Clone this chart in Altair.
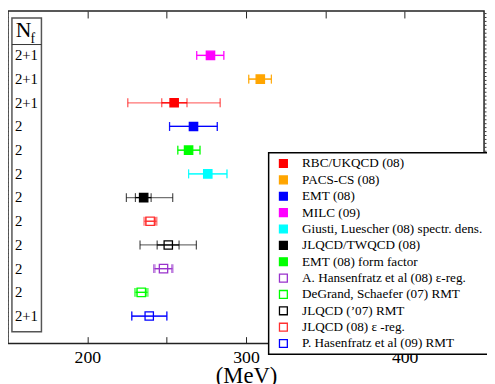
import altair as alt
import pandas as pd

# ---------------- data ----------------
names = [
    "MILC (09)",
    "PACS-CS (08)",
    "RBC/UKQCD (08)",
    "EMT (08)",
    "EMT (08) form factor",
    "Giusti, Luescher (08) spectr. dens.",
    "JLQCD/TWQCD (08)",
    "JLQCD (08) ε -reg.",
    "JLQCD (’07) RMT",
    "A. Hansenfratz et al (08) ε-reg.",
    "DeGrand, Schaefer (07) RMT",
    "P. Hasenfratz et al (09) RMT",
]
nf = ["2+1", "2+1", "2+1", "2", "2", "2", "2", "2", "2", "2", "2", "2+1"]
center = [277.6, 309.0, 254.7, 266.9, 263.8, 275.9, 235.5, 239.6, 251.0, 248.0, 234.0, 239.0]
stat_lo = [268.9, 301.7, 246.9, 251.8, 257.0, 263.8, 230.3, 236.6, 244.0, 242.6, 230.7, 228.0]
stat_hi = [286.0, 316.0, 262.8, 281.9, 271.0, 288.0, 240.2, 243.0, 257.8, 253.2, 237.4, 250.1]
tot_lo = [268.9, 301.7, 225.5, 251.8, 257.0, 263.8, 224.6, 235.7, 233.2, 241.8, 229.9, 228.0]
tot_hi = [286.0, 316.0, 283.7, 281.9, 271.0, 288.0, 253.8, 243.8, 268.7, 253.9, 238.2, 250.1]
filled = [True, True, True, True, True, True, True, False, False, False, False, False]
colors = ["#ff00ff", "#ffa500", "#ff0000", "#0000ff", "#00ff00", "#00ffff", "#000000",
          "#ff3030", "#000000", "#9932cc", "#00ff00", "#0000ff"]

legend_order = [
    "RBC/UKQCD (08)",
    "PACS-CS (08)",
    "EMT (08)",
    "MILC (09)",
    "Giusti, Luescher (08) spectr. dens.",
    "JLQCD/TWQCD (08)",
    "EMT (08) form factor",
    "A. Hansenfratz et al (08) ε-reg.",
    "DeGrand, Schaefer (07) RMT",
    "JLQCD (’07) RMT",
    "JLQCD (08) ε -reg.",
    "P. Hasenfratz et al (09) RMT",
]
x_ticks = [200, 250, 300, 350, 400]

# ---------------- tables ----------------
rows = list(range(1, len(names) + 1))
df = pd.DataFrame({
    "name": names, "nf": nf, "row": rows, "center": center,
    "stat_lo": stat_lo, "stat_hi": stat_hi, "tot_lo": tot_lo, "tot_hi": tot_hi,
})
caps = pd.DataFrame({
    "name": names * 4,
    "row": rows * 4,
    "x": tot_lo + tot_hi + stat_lo + stat_hi,
})
leg_df = pd.DataFrame({"name": legend_order, "rank": list(range(len(legend_order)))})

cmap = dict(zip(names, colors))
fmap = dict(zip(names, filled))
stroke_range = [cmap[n] for n in legend_order]
fill_range = [cmap[n] if fmap[n] else "transparent" for n in legend_order]

SERIF = "Liberation Serif"
xscale = alt.Scale(domain=[150, 450], nice=False, zero=False)
yscale = alt.Scale(domain=[-0.87, 13.16], nice=False, zero=False, reverse=True)
color_scale = alt.Scale(domain=legend_order, range=stroke_range)
fill_scale = alt.Scale(domain=legend_order, range=fill_range)
leg_y = alt.Scale(domain=[0, len(legend_order) - 1], range=[155, 338], nice=False, zero=False)

minor_y = [round(-0.8 + 0.166 * i, 3) for i in range(84)]

bottom_axis = alt.Axis(
    orient="bottom", values=x_ticks, offset=-7, tickSize=7, tickColor="#222",
    domain=False, grid=False, labelPadding=5, labelFont=SERIF, labelFontSize=18,
    labelColor="black", labelExpr="datum.value % 100 == 0 ? datum.label : ''",
    title="(MeV)", titleFont=SERIF, titleFontSize=23, titleFontWeight="normal",
    titleColor="black", titlePadding=-1,
)
top_axis = alt.Axis(
    orient="top", values=x_ticks, offset=-7, tickSize=7, tickColor="#222",
    domain=False, grid=False, labels=False, title=None,
)
left_axis = alt.Axis(orient="left", values=minor_y, tickSize=2, tickColor="#333",
                     domain=False, grid=False, labels=False, title=None)
right_axis = alt.Axis(orient="right", values=minor_y, tickSize=2, tickColor="#333",
                      domain=False, grid=False, labels=False, title=None)

base = alt.Chart(df)
one = base.transform_filter("datum.row == 1")

# N_f table box
box = one.mark_rect(fill="white", stroke="#555", strokeWidth=1.5).encode(
    x=alt.value(4), x2=alt.value(34), y=alt.value(7), y2=alt.value(326))
header_line = one.mark_rule(color="#333", strokeWidth=1).encode(
    x=alt.value(4), x2=alt.value(34), y=alt.value(34))
n_text = one.mark_text(text="N", font=SERIF, fontSize=22, align="left",
                       baseline="alphabetic", color="black").encode(
    x=alt.value(8), y=alt.value(26))
f_text = one.mark_text(text="f", font=SERIF, fontSize=14, align="left",
                       baseline="alphabetic", color="black").encode(
    x=alt.value(23), y=alt.value(32))
nf_text = base.mark_text(font=SERIF, fontSize=15, align="left", baseline="middle",
                         color="black").encode(
    x=alt.value(7),
    y=alt.Y("row:Q", scale=yscale, axis=right_axis),
    text="nf:N",
)

# error bars
outer = base.mark_rule(strokeWidth=1.3, opacity=0.55).encode(
    x=alt.X("tot_lo:Q", scale=xscale, axis=top_axis),
    x2="tot_hi:Q",
    y=alt.Y("row:Q", scale=yscale, axis=None),
    color=alt.Color("name:N", scale=color_scale, legend=None),
)
inner = base.mark_rule(strokeWidth=1.3).encode(
    x=alt.X("stat_lo:Q", scale=xscale, axis=None),
    x2="stat_hi:Q",
    y=alt.Y("row:Q", scale=yscale, axis=None),
    color=alt.Color("name:N", scale=color_scale, legend=None),
)
cap = alt.Chart(caps).mark_tick(orient="vertical", size=9, thickness=1.2).encode(
    x=alt.X("x:Q", scale=xscale, axis=None),
    y=alt.Y("row:Q", scale=yscale, axis=None),
    color=alt.Color("name:N", scale=color_scale, legend=None),
)
squares = base.mark_square(size=72, strokeWidth=1.3, opacity=1).encode(
    x=alt.X("center:Q", scale=xscale, axis=bottom_axis),
    y=alt.Y("row:Q", scale=yscale, axis=left_axis),
    stroke=alt.Stroke("name:N", scale=color_scale, legend=None),
    fill=alt.Fill("name:N", scale=fill_scale, legend=None),
)

main = alt.layer(
    box, header_line, n_text, f_text, nf_text, outer, inner, cap, squares
).resolve_axis(x="independent", y="independent")

# legend box (drawn by hand)
lbase = alt.Chart(leg_df)
leg_box = lbase.transform_filter("datum.rank == 0").mark_rect(
    fill="white", stroke="black", strokeWidth=1.5
).encode(x=alt.value(265), x2=alt.value(492), y=alt.value(144), y2=alt.value(349))
leg_sym = lbase.mark_square(size=64, strokeWidth=1.3, opacity=1).encode(
    x=alt.value(280),
    y=alt.Y("rank:Q", scale=leg_y, axis=None),
    stroke=alt.Stroke("name:N", scale=color_scale, legend=None),
    fill=alt.Fill("name:N", scale=fill_scale, legend=None),
)
leg_txt = lbase.mark_text(font=SERIF, fontSize=13.4, align="left", baseline="middle",
                          color="black").encode(
    x=alt.value(299),
    y=alt.Y("rank:Q", scale=leg_y, axis=None),
    text="name:N",
)
legend = alt.layer(leg_box, leg_sym, leg_txt)

chart = alt.layer(main, legend).resolve_scale(
    x="independent", y="independent"
).properties(
    width=484, height=338,
    autosize=alt.AutoSizeParams(type="none"),
    padding={"left": 0, "top": 0, "right": 3, "bottom": 38},
).configure_view(stroke="#222", strokeWidth=1.5)

chart.save("out.html", embed_options={"renderer": "svg", "actions": False})
